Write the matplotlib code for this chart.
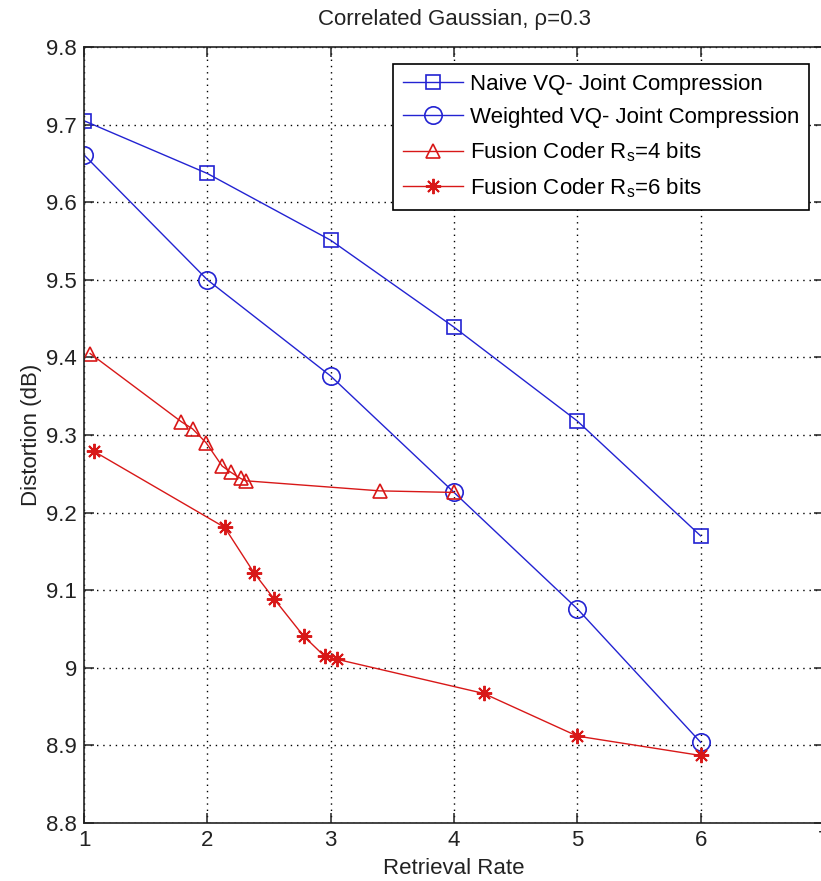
import numpy as np
import matplotlib
matplotlib.use("Agg")
import matplotlib.pyplot as plt

plt.rcParams['font.family'] = ['Liberation Sans', 'DejaVu Sans']
plt.rcParams['mathtext.fontset'] = 'custom'
plt.rcParams['mathtext.rm'] = 'Liberation Sans'
plt.rcParams['mathtext.it'] = 'Liberation Sans'

# data
naive_x = [1, 2, 3, 4, 5, 6]
naive_y = [9.705, 9.637, 9.551, 9.439, 9.318, 9.170]

weighted_x = [1, 2, 3, 4, 5, 6]
weighted_y = [9.661, 9.500, 9.376, 9.226, 9.076, 8.904]

fus4_x = [1.05, 1.79, 1.88, 1.99, 2.12, 2.19, 2.27, 2.31, 3.40, 4.00]
fus4_y = [9.405, 9.317, 9.308, 9.290, 9.260, 9.252, 9.244, 9.241, 9.228, 9.226]

fus6_x = [1.08, 2.14, 2.38, 2.54, 2.78, 2.95, 3.05, 4.24, 5.00, 6.00]
fus6_y = [9.279, 9.181, 9.122, 9.089, 9.041, 9.015, 9.011, 8.967, 8.912, 8.887]

labels = ["Naive VQ- Joint Compression",
          "Weighted VQ- Joint Compression",
          r"Fusion Coder R$_\mathregular{s}$=4 bits",
          r"Fusion Coder R$_\mathregular{s}$=6 bits"]

blue = '#2323d2'
red = '#d81818'
fs = 16

fig = plt.figure(figsize=(8.21, 8.81), dpi=100)
ax = fig.add_axes([84/821, 58/881, 740/821, 776/881])

ax.plot(naive_x, naive_y, '-', color=blue, lw=1.0, marker='s', ms=10.5,
        mfc='none', mec=blue, mew=1.2, label=labels[0])
ax.plot(weighted_x, weighted_y, '-', color=blue, lw=1.0, marker='o', ms=12.5,
        mfc='none', mec=blue, mew=1.2, label=labels[1])
ax.plot(fus4_x, fus4_y, '-', color=red, lw=1.0, marker='^', ms=10,
        mfc='none', mec=red, mew=1.2, label=labels[2])
ax.plot(fus6_x, fus6_y, '-', color=red, lw=1.0, marker=(8, 2, 0), ms=11,
        mfc='none', mec=red, mew=1.4, label=labels[3])

ax.set_xlim(1, 7)
ax.set_ylim(8.8, 9.8)
ax.set_xticks(np.arange(1, 8, 1))
ax.set_yticks(np.round(np.arange(8.8, 9.81, 0.1), 1))
ax.set_yticklabels(['8.8', '8.9', '9', '9.1', '9.2', '9.3', '9.4', '9.5', '9.6', '9.7', '9.8'])
ax.tick_params(direction='in', length=7, width=1.1, top=True, right=True,
               labelsize=fs, colors='#222222', pad=5)
for sp in ax.spines.values():
    sp.set_linewidth(1.2)
    sp.set_color('#222222')
ax.grid(True, color='black', linestyle=(0, (1, 3.5)), linewidth=1.0)

ax.set_title("Correlated Gaussian, ρ=0.3", fontsize=fs, pad=16, color='#222222')
ax.set_xlabel("Retrieval Rate", fontsize=fs, labelpad=5, color='#222222')
ax.set_ylabel("Distortion (dB)", fontsize=fs, labelpad=3, color='#222222')

leg = ax.legend(loc='upper right', bbox_to_anchor=(809/821, 1 - 64/881),
                bbox_transform=fig.transFigure, borderaxespad=0,
                fontsize=fs, fancybox=False, framealpha=1, edgecolor='black',
                handlelength=2.7, handletextpad=0.3, labelspacing=0.55,
                borderpad=0.45)
leg.get_frame().set_linewidth(1.2)

fig.savefig("out.png", dpi=100)
